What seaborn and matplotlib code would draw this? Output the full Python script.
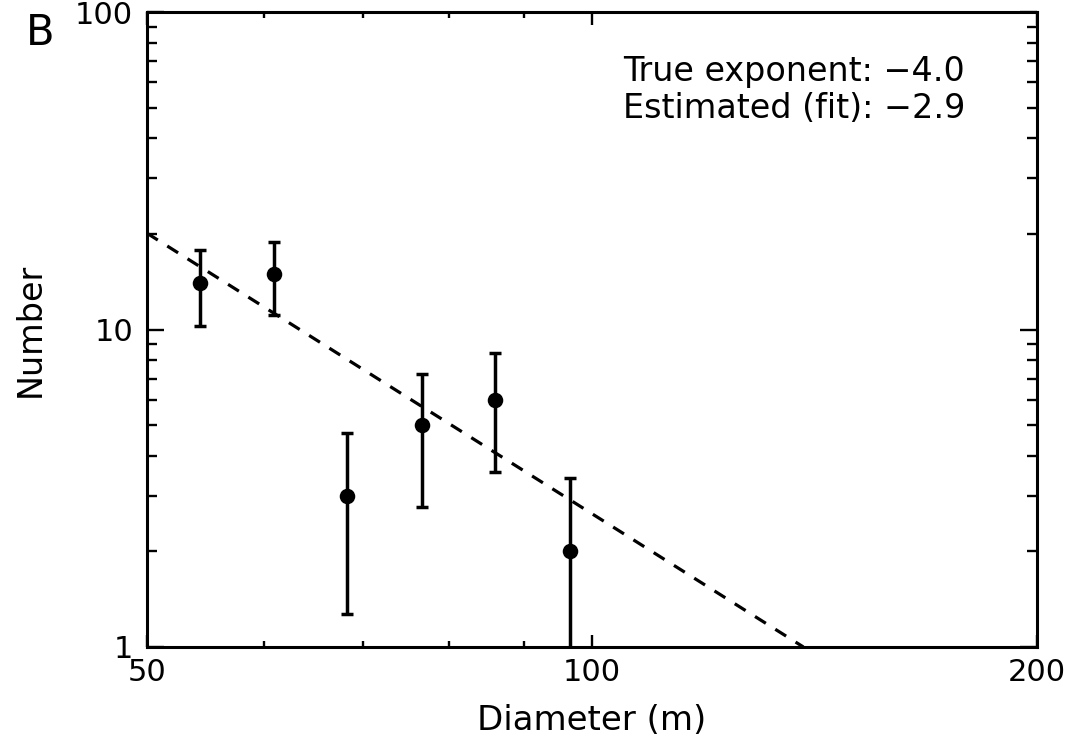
import matplotlib
matplotlib.use("Agg")
import matplotlib.pyplot as plt
import matplotlib.ticker as mticker
import seaborn as sns
import pandas as pd

# ---- data ----
diameters = [54.3, 60.9, 68.3, 76.7, 86.0, 96.6]
counts = [14, 15, 3, 5, 6, 2]
count_err = [3.74, 3.87, 1.73, 2.24, 2.45, 1.41]
fit_diam = [50.0, 139.0]
fit_count = [20.1, 1.0]
x_major = [50, 100, 200]
x_major_labels = ["50", "100", "200"]
x_minor = [60, 70, 80, 90]
y_major = [1, 10, 100]
y_major_labels = ["1", "10", "100"]
y_minor = [2, 3, 4, 5, 6, 7, 8, 9, 20, 30, 40, 50, 60, 70, 80, 90]
annot_lines = ["True exponent: \u22124.0", "Estimated (fit): \u22122.9"]
panel_label = "B"

sns.set_theme(style="ticks")
plt.rcParams["font.family"] = ["DejaVu Sans"]
plt.rcParams["text.color"] = "black"
plt.rcParams["axes.labelcolor"] = "black"
plt.rcParams["xtick.color"] = "black"
plt.rcParams["ytick.color"] = "black"

pts = pd.DataFrame({"D": diameters, "N": counts, "err": count_err})
fit = pd.DataFrame({"D": fit_diam, "N": fit_count})

fig = plt.figure(figsize=(10.73, 7.5), dpi=100)
ax = fig.add_axes([147 / 1073, 103 / 750, 890 / 1073, 635 / 750])
ax.set_xscale("log")
ax.set_yscale("log")

ax.errorbar(pts["D"], pts["N"], yerr=pts["err"], fmt="none", ecolor="black",
            elinewidth=2.5, capsize=4.2, capthick=2.5, zorder=2)
sns.scatterplot(data=pts, x="D", y="N", ax=ax, color="black", s=125,
                edgecolor="black", linewidth=0, zorder=3, legend=False)
sns.lineplot(data=fit, x="D", y="N", ax=ax, color="black", linewidth=2.3,
             dashes=False, zorder=1, legend=False)
ax.lines[-1].set_dashes((4, 3.5))

ax.set_xlim(50, 200)
ax.set_ylim(1, 100)

ax.xaxis.set_major_locator(mticker.FixedLocator(x_major))
ax.xaxis.set_major_formatter(mticker.FixedFormatter(x_major_labels))
ax.xaxis.set_minor_locator(mticker.FixedLocator(x_minor))
ax.xaxis.set_minor_formatter(mticker.NullFormatter())
ax.yaxis.set_major_locator(mticker.FixedLocator(y_major))
ax.yaxis.set_major_formatter(mticker.FixedFormatter(y_major_labels))
ax.yaxis.set_minor_locator(mticker.FixedLocator(y_minor))
ax.yaxis.set_minor_formatter(mticker.NullFormatter())

for side in ["left", "right", "top", "bottom"]:
    ax.spines[side].set_visible(True)
    ax.spines[side].set_linewidth(2.2)
    ax.spines[side].set_color("black")

ax.tick_params(axis="both", which="both", direction="in", top=True, right=True,
               colors="black", width=1.7)
ax.tick_params(axis="x", which="major", length=9, pad=8, labelsize=22)
ax.tick_params(axis="x", which="minor", length=4.5)
ax.tick_params(axis="y", which="major", length=12.5, pad=10, labelsize=22)
ax.tick_params(axis="y", which="minor", length=7)

ax.set_xlabel("Diameter (m)", fontsize=24.5, labelpad=12)
ax.set_ylabel("Number", fontsize=24, labelpad=20)

ax.text(0.535, 0.932, annot_lines[0], transform=ax.transAxes, fontsize=24,
        ha="left", va="top", color="black")
ax.text(0.535, 0.874, annot_lines[1], transform=ax.transAxes, fontsize=24,
        ha="left", va="top", color="black")

fig.text(26 / 1073, 1 - 12 / 750, panel_label, fontsize=30, ha="left", va="top",
         color="black")

ax.grid(False)
fig.savefig("out.png", dpi=100, facecolor="white")
